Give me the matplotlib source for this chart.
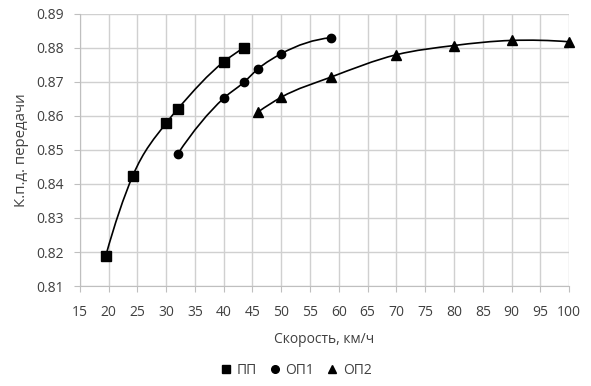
import numpy as np
import matplotlib
matplotlib.use('Agg')
import matplotlib.pyplot as plt
from matplotlib.path import Path
from matplotlib.patches import PathPatch
from matplotlib.lines import Line2D

plt.rcParams['font.family'] = ['Open Sans', 'DejaVu Sans']

# data
pp_x = [19.5, 24.2, 30.0, 32.0, 40.0, 43.5]
pp_y = [0.8188, 0.8424, 0.8579, 0.8620, 0.8759, 0.8800]
op1_x = [32.0, 40.0, 43.5, 46.0, 50.0, 58.6]
op1_y = [0.8488, 0.8652, 0.8699, 0.8739, 0.8783, 0.8830]
op2_x = [46.0, 50.0, 58.6, 70.0, 80.0, 90.0, 100.0]
op2_y = [0.8612, 0.8655, 0.8714, 0.8780, 0.8807, 0.8822, 0.8818]
labels = ['ПП', 'ОП1', 'ОП2']
markers = ['s', 'o', '^']
x_ticks = list(range(15, 101, 5))
y_ticks = [0.81, 0.82, 0.83, 0.84, 0.85, 0.86, 0.87, 0.88, 0.89]

TXT = '#404040'


def slopes(x, y):
    # three-point (parabola) derivative for uneven spacing
    n = len(x)
    m = np.zeros(n)
    for i in range(1, n - 1):
        h0, h1 = x[i] - x[i - 1], x[i + 1] - x[i]
        d0, d1 = (y[i] - y[i - 1]) / h0, (y[i + 1] - y[i]) / h1
        m[i] = (h1 * d0 + h0 * d1) / (h0 + h1)
    h0, h1 = x[1] - x[0], x[2] - x[1]
    d0, d1 = (y[1] - y[0]) / h0, (y[2] - y[1]) / h1
    m[0] = ((2 * h0 + h1) * d0 - h0 * d1) / (h0 + h1)
    h0, h1 = x[-2] - x[-3], x[-1] - x[-2]
    d0, d1 = (y[-2] - y[-3]) / h0, (y[-1] - y[-2]) / h1
    m[-1] = ((2 * h1 + h0) * d1 - h1 * d0) / (h0 + h1)
    return m


def smooth_path(xs, ys):
    x = np.asarray(xs, float)
    y = np.asarray(ys, float)
    m = slopes(x, y)
    verts = [(x[0], y[0])]
    codes = [Path.MOVETO]
    for i in range(len(x) - 1):
        h = x[i + 1] - x[i]
        verts += [(x[i] + h / 3, y[i] + m[i] * h / 3),
                  (x[i + 1] - h / 3, y[i + 1] - m[i + 1] * h / 3),
                  (x[i + 1], y[i + 1])]
        codes += [Path.CURVE4] * 3
    return Path(verts, codes)


fig = plt.figure(figsize=(5.91, 3.86), dpi=100)
ax = fig.add_axes([0.135, 0.259, 0.828, 0.705])

series = [(pp_x, pp_y), (op1_x, op1_y), (op2_x, op2_y)]
for (xs, ys), m, lab in zip(series, markers, labels):
    ax.add_patch(PathPatch(smooth_path(xs, ys), facecolor='none',
                           edgecolor='black', linewidth=1.2, zorder=3))
    ax.plot(xs, ys, linestyle='none', marker=m, color='black',
            markersize=6.5 if m != 'o' else 6, zorder=4, label=lab, clip_on=False)

ax.set_xlim(15, 100)
ax.set_ylim(0.81, 0.89)
ax.set_xticks(x_ticks)
ax.set_yticks(y_ticks)
ax.set_yticklabels([f'{v:.2f}' for v in y_ticks])
ax.grid(True, color='#d0d0d0', linewidth=1)
ax.set_axisbelow(True)
for s in ['top', 'right']:
    ax.spines[s].set_visible(False)
for s in ['left', 'bottom']:
    ax.spines[s].set_color('#bfbfbf')
ax.tick_params(colors='#bfbfbf', labelcolor=TXT, labelsize=10, length=4.5)
ax.tick_params(axis='x', pad=9)
ax.tick_params(axis='y', pad=7)
ax.set_xlabel('Скорость, км/ч', fontsize=10, color=TXT, labelpad=9)
ax.set_ylabel('К.п.д. передачи', fontsize=10.8, color=TXT, labelpad=5)

handles = [Line2D([], [], linestyle='none', marker=m, color='black', markersize=5.5)
           for m in markers]
fig.legend(handles, labels, loc='center', ncol=3, frameon=False,
           fontsize=10, handletextpad=0.25, columnspacing=0.8, handlelength=1.0,
           bbox_to_anchor=(0.5, 1 - 370 / 386), labelcolor=TXT)

fig.savefig('out.png', dpi=100)
